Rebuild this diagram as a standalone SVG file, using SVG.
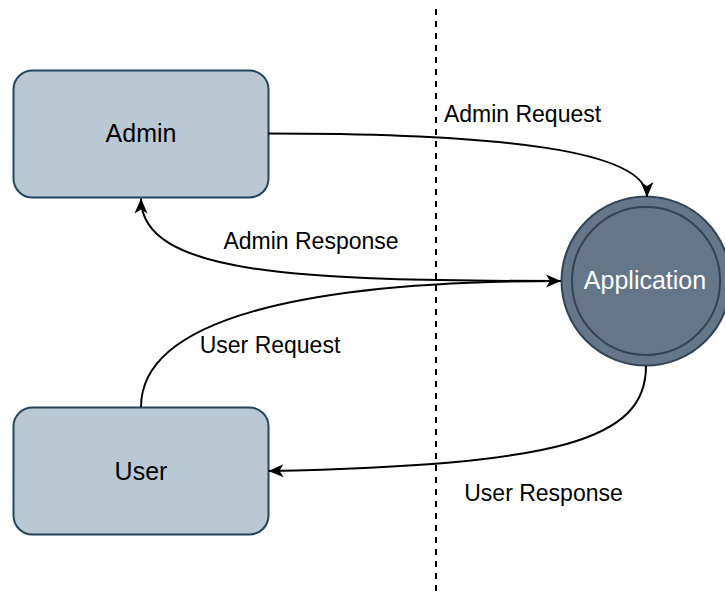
<svg xmlns="http://www.w3.org/2000/svg" width="725" height="597" viewBox="0 0 725 597">
  <style>
    .box { fill: #bac8d3; stroke: #23445d; stroke-width: 2; }
    .app { fill: #647687; stroke: #314354; stroke-width: 2; }
    .node-text { font-family: "Liberation Sans", Arial, sans-serif; font-size: 25px; text-anchor: middle; fill: #000000; }
    .app-text { fill: #ffffff; }
    .edge { fill: none; stroke: #000000; stroke-width: 2; }
    .edge-label { font-family: "Liberation Sans", Arial, sans-serif; font-size: 23px; text-anchor: middle; fill: #000000; }
    .boundary { fill: none; stroke: #000000; stroke-width: 2; stroke-dasharray: 6 6; }
  </style>
  <defs>
    <marker id="arrow" markerUnits="userSpaceOnUse" markerWidth="16" markerHeight="14" refX="15" refY="6.5" orient="auto" overflow="visible">
      <path d="M15,6.5 L0,0 L4,6.5 L0,13 Z" fill="#000000" stroke="none"/>
    </marker>
  </defs>

  <rect width="725" height="597" fill="#ffffff"/>

  <!-- trust boundary -->
  <g id="boundary">
    <path class="boundary" d="M436 9 V597"/>
  </g>

  <!-- nodes -->
  <g id="admin">
    <rect class="box" x="13.5" y="70.5" width="255" height="127" rx="19" ry="19"/>
    <text class="node-text" x="141" y="142">Admin</text>
  </g>
  <g id="user">
    <rect class="box" x="13.5" y="407.5" width="255" height="127" rx="19" ry="19"/>
    <text class="node-text" x="141" y="480">User</text>
  </g>
  <g id="application">
    <circle class="app" cx="646" cy="281" r="84.5"/>
    <circle class="app" cx="646" cy="281" r="74"/>
    <text class="node-text app-text" x="645" y="289">Application</text>
  </g>

  <!-- connectors -->
  <g id="connectors">
    <path class="edge" d="M268 133.5 C500 133.5, 647 150, 647 197" marker-end="url(#arrow)"/>
    <path class="edge" d="M561 281 C300 281, 141 275, 141 198.5" marker-end="url(#arrow)"/>
    <path class="edge" d="M141 407 C141 320, 300 281, 561 281" marker-end="url(#arrow)"/>
    <path class="edge" d="M646 366 C646 440, 560 465, 268.5 471" marker-end="url(#arrow)"/>
  </g>

  <!-- connector labels -->
  <g id="labels">
    <text class="edge-label" x="522.5" y="121.5">Admin Request</text>
    <text class="edge-label" x="311" y="248.5">Admin Response</text>
    <text class="edge-label" x="270" y="353">User Request</text>
    <text class="edge-label" x="543.5" y="500.5">User Response</text>
  </g>
</svg>
